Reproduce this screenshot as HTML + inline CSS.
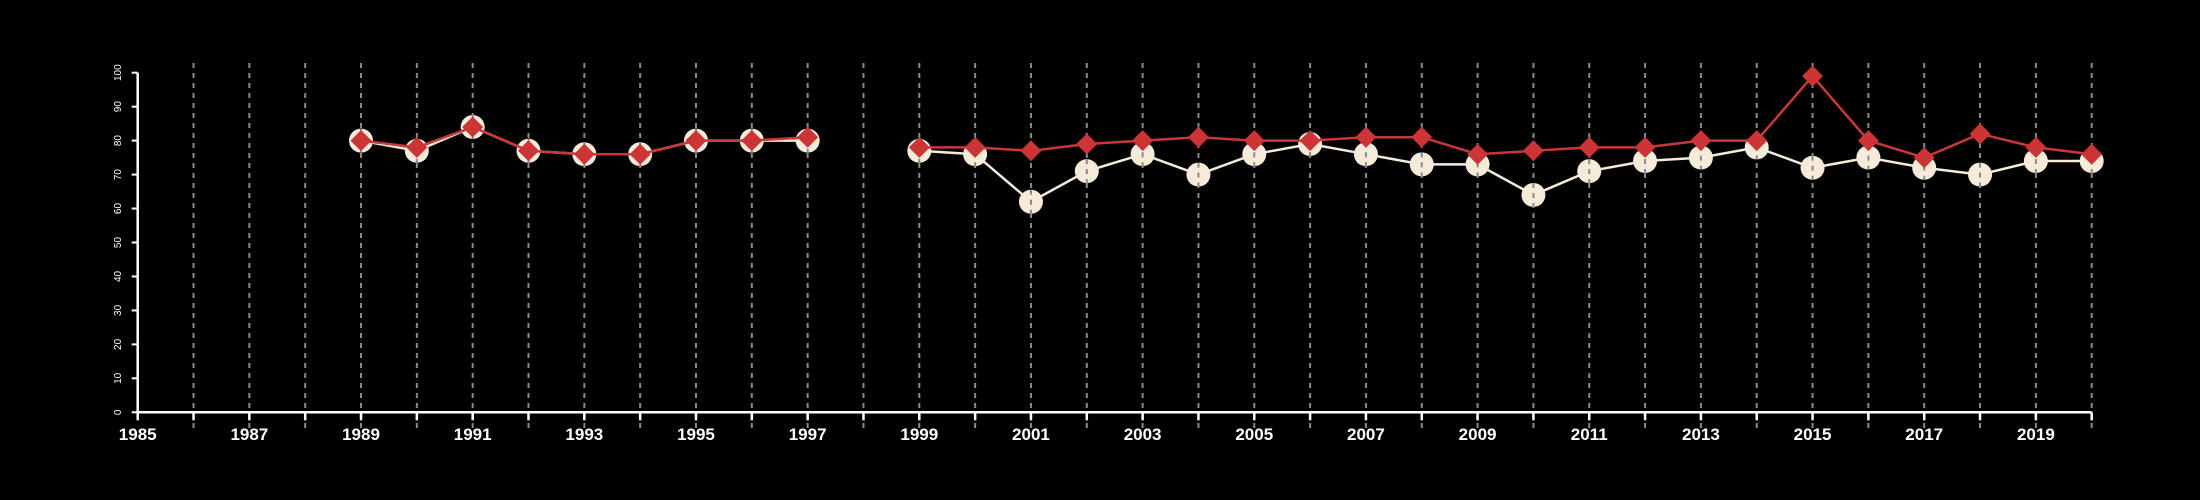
<!DOCTYPE html>
<html><head><meta charset="utf-8"><style>
html,body{margin:0;padding:0;background:#000;width:2200px;height:500px;overflow:hidden}
svg{display:block}
text{font-family:"Liberation Sans",sans-serif;fill:#fff}
</style></head><body>
<svg id="chart" width="2200" height="500" xmlns="http://www.w3.org/2000/svg"></svg>
<script>
const years = [1989,1990,1991,1992,1993,1994,1995,1996,1997,1998,1999,2000,2001,2002,2003,2004,2005,2006,2007,2008,2009,2010,2011,2012,2013,2014,2015,2016,2017,2018,2019,2020];
const seriesA = [80,77,84,77,76,76,80,80,80,null,77,76,62,71,76,70,76,79,76,73,73,64,71,74,75,78,72,75,72,70,74,74];
const seriesB = [80,78,84,77,76,76,80,80,81,null,78,78,77,79,80,81,80,80,81,81,76,77,78,78,80,80,99,80,75,82,78,76];
const xTicks = [1985,1987,1989,1991,1993,1995,1997,1999,2001,2003,2005,2007,2009,2011,2013,2015,2017,2019];
const yTicks = [0,10,20,30,40,50,60,70,80,90,100];

const NS="http://www.w3.org/2000/svg", svg=document.getElementById('chart');
const X0=137.7,X1=2091.7,Y0=412.3,Y1=72.7;
const x=v=>X0+(v-1985)/(2020-1985)*(X1-X0);
const y=v=>Y0-(v/100)*(Y0-Y1);
function mk(t,a,p){const e=document.createElementNS(NS,t);for(const k in a)e.setAttribute(k,a[k]);(p||svg).appendChild(e);return e;}

// grid
for(let yr=1986;yr<=2020;yr++){
  const g=mk('line',{x1:x(yr),x2:x(yr),y1:63,y2:428,stroke:'#8a8a8a','stroke-width':2,'stroke-dasharray':'5,5'});
  
  
}
// axes
const xa=mk('line',{x1:X0,x2:X1,y1:Y0,y2:Y0,stroke:'#fff','stroke-width':2.5});


const ya=mk('line',{x1:X0,x2:X0,y1:Y0,y2:Y1,stroke:'#fff','stroke-width':2.5});


for(let yr=1985;yr<=2020;yr++) mk('line',{x1:x(yr),x2:x(yr),y1:Y0,y2:Y0+8,stroke:'#fff','stroke-width':2.5});
xTicks.forEach(t=>{
  const e=mk('text',{x:x(t),y:440,'text-anchor':'middle','font-size':17,'font-weight':'bold'});
  e.textContent=t;
  
  
});
yTicks.forEach(t=>{
  mk('line',{x1:X0-6,x2:X0,y1:y(t),y2:y(t),stroke:'#fff','stroke-width':2});
  const e=mk('text',{x:0,y:0,'text-anchor':'middle','font-size':10,transform:`translate(121,${y(t)}) rotate(-90)`});
  e.textContent=t;
  
  
});
function line(vals,color,w,name){
  let segs=[],cur=[];
  vals.forEach((v,i)=>{if(v==null){if(cur.length)segs.push(cur);cur=[];}else cur.push(x(years[i])+','+y(v));});
  if(cur.length)segs.push(cur);
  segs.forEach(s=>{const p=mk('polyline',{points:s.join(' '),fill:'none',stroke:color,'stroke-width':w});
    
    });
}
line(seriesA,'#f6ead8',2.5,'series-a-line');
seriesA.forEach((v,i)=>{if(v==null)return;
  const c=mk('circle',{cx:x(years[i]),cy:y(v),r:12,fill:'#f6ead8'});
  
  
  mk('line',{x1:x(years[i]),x2:x(years[i]),y1:y(v)-12,y2:y(v)+12,stroke:'#8a8a8a','stroke-width':2,'stroke-dasharray':'5,5'});
});
line(seriesB,'#c8383a',2.5,'series-b-line');
seriesB.forEach((v,i)=>{if(v==null)return;
  const cx=x(years[i]),cy=y(v),r=10.5;
  const d=mk('polygon',{points:`${cx},${cy-r} ${cx+r},${cy} ${cx},${cy+r} ${cx-r},${cy}`,fill:'#cc3436'});
  
  
});
</script>
</body></html>
